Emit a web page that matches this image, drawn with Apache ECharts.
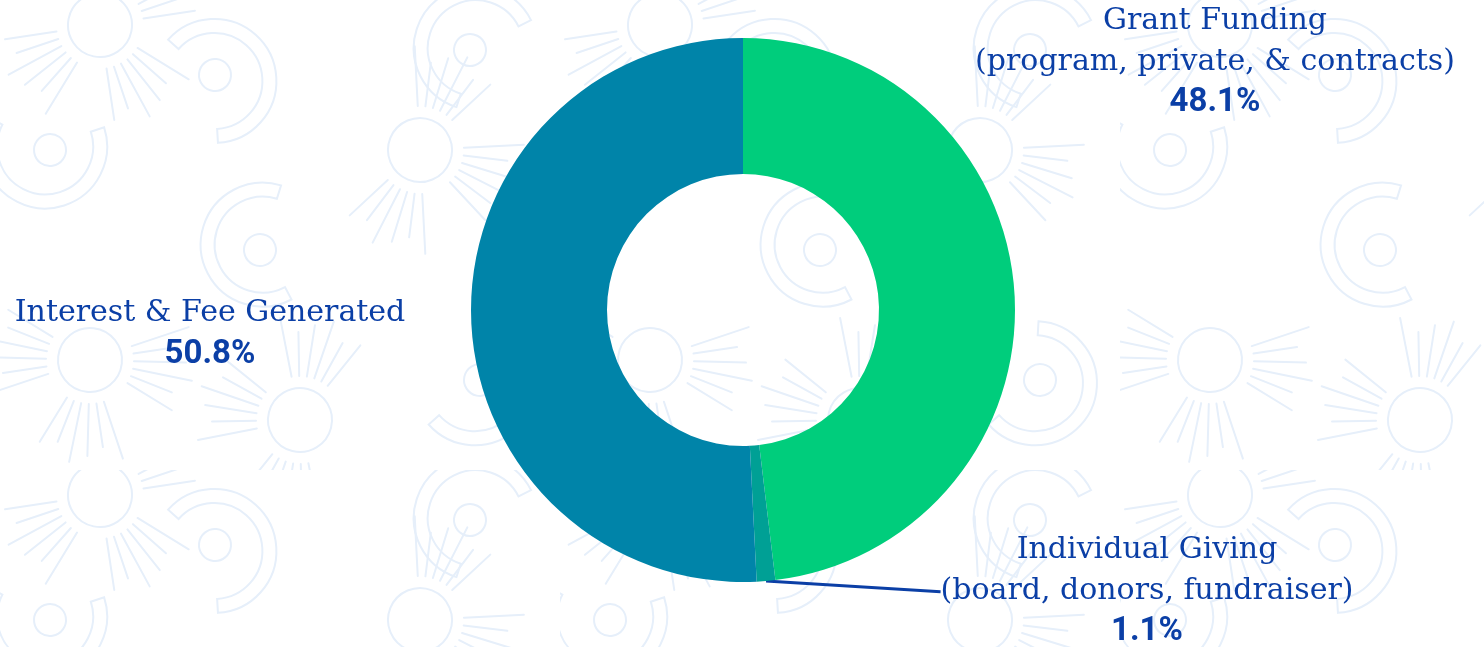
<!DOCTYPE html>
<html>
<head>
<meta charset="utf-8">
<script src="https://cdn.jsdelivr.net/npm/echarts@6/dist/echarts.min.js"></script>
<style>
    html, body { margin: 0; padding: 0; background: #fff; }
    #revenueChart { width: 1484px; height: 647px; }
</style>
</head>
<body>
<div id="revenueChart"></div>
<script>
var sourceNames = [
    'Grant Funding\n(program, private, & contracts)',
    'Individual Giving\n(board, donors, fundraiser)',
    'Interest & Fee Generated'
];
var sourceShares = [48.1, 1.1, 50.8];
var sliceColors = ['#00cd7c', '#00a095', '#0084a9'];

// where each label block sits (centre of the padded text block)
var labelCentres = [[1206, 62], [1138, 591], [201, 334]];

// faint icon pattern behind the chart
function makeTile(){
    var tile = document.createElement('canvas');
    tile.width = 560;
    tile.height = 470;
    var ctx = tile.getContext('2d');
    ctx.strokeStyle = '#e6effa';
    ctx.lineWidth = 2;
    ctx.lineCap = 'round';

    function sun(cx, cy, rot){
        ctx.save();
        ctx.translate(cx, cy);
        ctx.rotate(rot);
        ctx.beginPath();
        ctx.arc(0, 0, 32, 0, Math.PI * 2);
        ctx.stroke();
        var groups = [[-70, -20], [20, 70], [110, 160]];
        groups.forEach(function(g){
            for (var a = g[0]; a <= g[1]; a += 10) {
                var r = a * Math.PI / 180;
                var len = 44 + ((a / 10) % 3 + 3) % 3 * 8;
                ctx.beginPath();
                ctx.moveTo(Math.cos(r) * 44, Math.sin(r) * 44);
                ctx.lineTo(Math.cos(r) * (44 + len), Math.sin(r) * (44 + len));
                ctx.stroke();
            }
        });
        ctx.restore();
    }

    function person(cx, cy, rot){
        ctx.save();
        ctx.translate(cx, cy);
        ctx.rotate(rot);
        ctx.beginPath();
        ctx.arc(0, 0, 16, 0, Math.PI * 2);
        ctx.stroke();
        var a0 = -Math.PI * 0.8, a1 = Math.PI * 0.45;
        ctx.beginPath();
        ctx.arc(0, 6, 62, a0, a1);
        ctx.arc(0, 6, 48, a1, a0, true);
        ctx.closePath();
        ctx.stroke();
        ctx.restore();
    }

    sun(100, 25, 0.2);
    person(215, 75, 0.1);
    person(50, 150, 2.2);
    sun(420, 150, -0.4);
    person(260, 250, 3.6);
    person(480, 380, 1.0);
    sun(90, 360, 0.9);
    person(470, 50, 4.4);
    sun(300, 420, 2.6);
    return tile;
}

var chartData = sourceNames.map(function(name, i){
    return {
        name: name,
        value: sourceShares[i],
        itemStyle: { color: sliceColors[i] },
        labelLine: { show: i === 1 }
    };
});

var option = {
    backgroundColor: { image: makeTile(), repeat: 'repeat' },
    animation: false,
    series: [{
        type: 'pie',
        center: [743, 310],
        radius: [136, 272],
        startAngle: 90,
        clockwise: true,
        avoidLabelOverlap: false,
        emphasis: { disabled: true },
        data: chartData,
        label: {
            show: true,
            padding: [0, 0, 0, 18],
            formatter: function(p){
                var lines = p.name.split('\n').map(function(s){
                    return '{n|' + s + '}';
                });
                return lines.join('\n') + '\n{p|' + p.value + '%}';
            },
            rich: {
                n: {
                    fontFamily: 'DejaVu Serif',
                    fontSize: 30,
                    lineHeight: 41,
                    color: '#0b3fa6'
                },
                p: {
                    fontFamily: 'Roboto',
                    fontWeight: 700,
                    fontSize: 33,
                    lineHeight: 41,
                    color: '#0b3fa6'
                }
            }
        },
        labelLine: {
            length: 20,
            length2: 0,
            lineStyle: { color: '#0b3fa6', width: 3 }
        },
        labelLayout: function(params){
            var c = labelCentres[params.dataIndex];
            return { x: c[0], y: c[1], align: 'center', verticalAlign: 'middle' };
        }
    }]
};

var chart = echarts.init(document.getElementById('revenueChart'));
chart.setOption(option);
</script>
</body>
</html>
